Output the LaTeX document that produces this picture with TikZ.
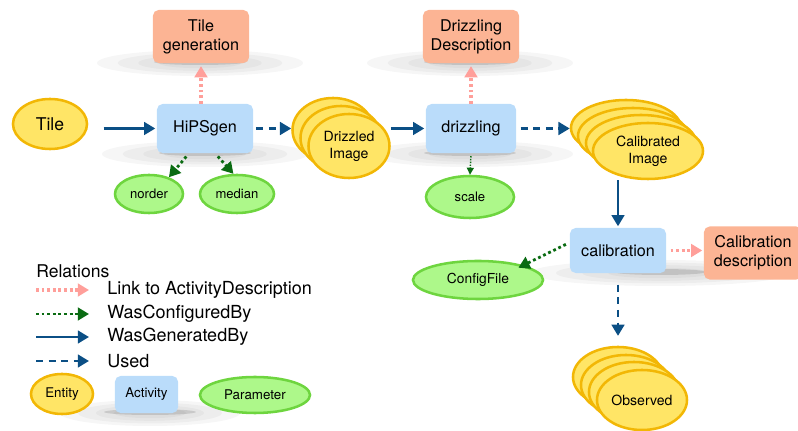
\documentclass[tikz,border=0pt]{standalone}
\usepackage{fontspec}
\setmainfont{TeX Gyre Heros}
\usetikzlibrary{shapes.geometric,arrows.meta}

\definecolor{entfill}{HTML}{FFE566}
\definecolor{entline}{HTML}{F2B705}
\definecolor{actfill}{HTML}{BADCFA}
\definecolor{descfill}{HTML}{FCB494}
\definecolor{parfill}{HTML}{ADF88A}
\definecolor{parline}{HTML}{6ED53F}
\definecolor{genblue}{HTML}{0B4F85}
\definecolor{cfggreen}{HTML}{0A6B12}
\definecolor{linkpink}{HTML}{FF9F9A}

\tikzset{
	entity/.style={ellipse, draw=entline, fill=entfill, line width=1.8pt, inner sep=0pt, align=center, font=\fontsize{10}{12}\selectfont},
	activity/.style={rectangle, rounded corners=4pt, fill=actfill, minimum width=2.4cm, minimum height=1.225cm, font=\fontsize{11.5}{13}\selectfont},
	descr/.style={rectangle, rounded corners=4pt, fill=descfill, minimum width=2.4cm, minimum height=1.325cm, align=center, font=\fontsize{11.5}{13.5}\selectfont},
	param/.style={ellipse, draw=parline, fill=parfill, line width=1.8pt, inner sep=0pt, font=\fontsize{9.3}{11}\selectfont},
	gen/.style={-{Triangle[length=8pt,width=9pt]}, draw=genblue, line width=1.9pt},
	used/.style={gen, dash pattern=on 5pt off 4pt},
	cfg/.style={-{Triangle[length=8pt,width=9pt]}, draw=cfggreen, line width=2pt, dash pattern=on 2pt off 2pt},
	link/.style={-{Triangle[length=8pt,width=9pt]}, draw=linkpink, line width=2.2pt, dash pattern=on 2pt off 2pt},
}

\begin{document}
\begin{tikzpicture}[x=0.025cm, y=-0.025cm]
	\useasboundingbox (0,0) rectangle (798,431);
	%\draw[help lines] (0,0) grid[step=50] (798,431);

	% soft shadows under the boxes
	\foreach \cx/\cy/\rx in {200/63/103, 205/154/103, 470/63/103, 470/154/103, 660/273/130, 150/413/90}{
		\foreach \s in {1,0.8,0.6,0.4}
			\fill[black, opacity=0.035] (\cx,\cy) ellipse [x radius=\s*\rx, y radius=\s*13];
		\fill[black, opacity=0.12] (\cx,\cy-1) ellipse [x radius=46, y radius=3];
	}

	% entities, activities, parameters
	\node[entity, minimum width=1.85cm, minimum height=1.25cm, font=\fontsize{12.5}{14}\selectfont] (tile) at (50,124) {Tile};
	\node[activity] (hips) at (205,128.5) {HiPSgen};
	\node[descr] (tilegen) at (201,36.5) {Tile\\generation};
	\node[param, minimum width=1.7cm, minimum height=0.95cm] (norder) at (149,194) {norder};
	\node[param, minimum width=1.85cm, minimum height=0.95cm] (median) at (237,194) {median};

	\node[entity, minimum width=2.025cm, minimum height=1.6cm] (drzA) at (333,130) {};
	\node[entity, minimum width=2.025cm, minimum height=1.6cm] (drzB) at (341,138) {};
	\node[entity, minimum width=2.025cm, minimum height=1.6cm] (drzC) at (349,146) {Drizzled\\Image};

	\node[activity, minimum width=2.25cm] (drizzling) at (471,128.5) {drizzling};
	\node[descr] (drzdesc) at (471,36.5) {Drizzling\\Description};
	\node[param, minimum width=2.2cm, minimum height=1.05cm] (scale) at (470,197) {scale};

	\node[entity, minimum width=2.75cm, minimum height=1.4cm] (calA) at (626,128) {};
	\node[entity, minimum width=2.75cm, minimum height=1.4cm] (calB) at (633,136) {};
	\node[entity, minimum width=2.75cm, minimum height=1.4cm] (calC) at (641,143) {};
	\node[entity, minimum width=2.75cm, minimum height=1.4cm] (calD) at (648,151) {Calibrated\\Image};

	\node[activity, minimum height=1.125cm] (calib) at (618,250.5) {calibration};
	\node[descr, minimum width=2.45cm] (calibdesc) at (753,253) {Calibration\\description};
	\node[param, minimum width=3.25cm, minimum height=0.95cm, font=\fontsize{9.8}{11}\selectfont] (config) at (478,280) {ConfigFile};

	\node[entity, minimum width=2.25cm, minimum height=1.5cm] (obsA) at (618,377) {};
	\node[entity, minimum width=2.25cm, minimum height=1.5cm] (obsB) at (626,385) {};
	\node[entity, minimum width=2.25cm, minimum height=1.5cm] (obsC) at (634,392) {};
	\node[entity, minimum width=2.25cm, minimum height=1.5cm] (obsD) at (642,400) {Observed};

	% relations
	\draw[gen, shorten <=11pt, shorten >=1pt] (tile.east |- hips.west) -- (hips.west);
	\draw[used, shorten <=2pt] (hips.east) -- (hips.east -| drzA.west);
	\draw[gen, shorten >=1pt] (drzC.east |- drizzling.west) -- (drizzling.west);
	\draw[used, shorten <=3pt] (drizzling.east) -- (drizzling.east -| calA.west);
	\draw[gen, shorten >=1pt] (calib.north |- calD.south) -- (calib.north);
	\draw[used, shorten <=8pt, shorten >=7pt] (calib.south) -- (calib.south |- obsA.north);

	\draw[link, shorten >=2pt] (tilegen.south |- hips.north) -- (tilegen.south);
	\draw[link, shorten >=2pt] (drzdesc.south |- drizzling.north) -- (drzdesc.south);
	\draw[link, shorten <=3pt, shorten >=1pt] (calib.east) -- (calib.east -| calibdesc.west);

	\draw[cfg, shorten <=3pt] ([xshift=-0.4cm]hips.south) -- (norder.40);
	\draw[cfg, shorten <=3pt] ([xshift=0.25cm]hips.south) -- (median.100);
	\draw[cfg, line width=1pt, dash pattern=on 1pt off 1pt, -{Triangle[length=5pt,width=5pt]}, shorten <=2pt] (drizzling.south) -- (scale.north);
	\draw[cfg, shorten <=3pt, shorten >=-4pt] ([yshift=0.2cm]calib.west) -- (config.18);

	% legend
	\node[anchor=west, inner sep=0pt, font=\fontsize{12.5}{14}\selectfont] (relations) at (36,271) {Relations};
	\foreach \y/\kind/\name/\txt in {290/link/lk/Link to ActivityDescription, 314/cfg/cf/WasConfiguredBy, 337/gen/gn/WasGeneratedBy, 361/used/us/Used}{
		\coordinate (\name a) at (36,\y);
		\coordinate (\name b) at (89,\y);
		\draw[\kind] (\name a) -- (\name b);
		\node[anchor=west, inner sep=0pt, font=\fontsize{12.8}{14}\selectfont] (\name txt) at (107,\y) {\txt};
	}
	\node[entity, minimum width=1.55cm, minimum height=1.0cm, font=\fontsize{9.5}{11}\selectfont] (legent) at (62,394) {Entity};
	\node[activity, minimum width=1.575cm, minimum height=0.925cm, font=\fontsize{9.5}{11}\selectfont] (legact) at (146.5,394.5) {Activity};
	\node[param, minimum width=2.75cm, minimum height=0.9cm, font=\fontsize{9.5}{11}\selectfont] (legpar) at (255,395) {Parameter};
\end{tikzpicture}
\end{document}
